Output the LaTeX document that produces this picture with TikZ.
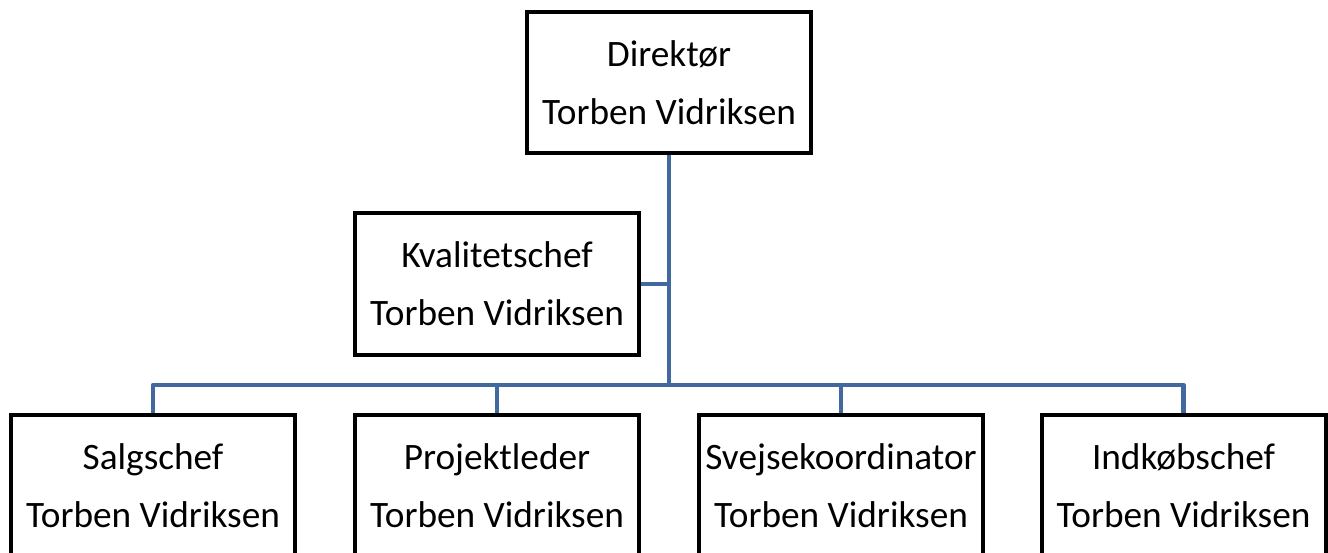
\documentclass[tikz,border=0pt]{standalone}
\usepackage{fontspec}
\setmainfont{Carlito}
\usetikzlibrary{backgrounds}
\definecolor{connblue}{RGB}{65,105,158}
\tikzset{
  orgbox/.style={draw=black, line width=4pt, minimum width=284pt, minimum height=142pt,
    inner sep=0pt, align=center, font=\fontsize{37.3}{58}\selectfont},
  conn/.style={draw=connblue, line width=4.5pt, line join=round}
}
\begin{document}
\begin{tikzpicture}[x=1pt,y=-1pt]
\useasboundingbox (0,0) rectangle (1328,553);
\clip (0,0) rectangle (1328,553);
\node[orgbox, minimum height=141pt] (dir) at (669,82.5) {Direktør\\Torben Vidriksen};
\node[orgbox] (kval) at (497,284) {Kvalitetschef\\Torben Vidriksen};
\node[orgbox] (sal) at (153,486) {Salgschef\\Torben Vidriksen};
\node[orgbox] (pro) at (497,486) {Projektleder\\Torben Vidriksen};
\node[orgbox] (sve) at (841,486) {Svejsekoordinator\\Torben Vidriksen};
\node[orgbox] (ind) at (1183.5,486) {Indkøbschef\\Torben Vidriksen};
\coordinate (bus) at (669,385);
\begin{scope}[on background layer]
\draw[conn] (dir.south) -- (bus);
\draw[conn] (kval.east) -- (kval.east -| dir.south);
\draw[conn] (sal.north) |- (ind.north |- bus) -- (ind.north);
\draw[conn] (pro.north) -- (pro.north |- bus);
\draw[conn] (sve.north) -- (sve.north |- bus);
\end{scope}
\end{tikzpicture}
\end{document}
